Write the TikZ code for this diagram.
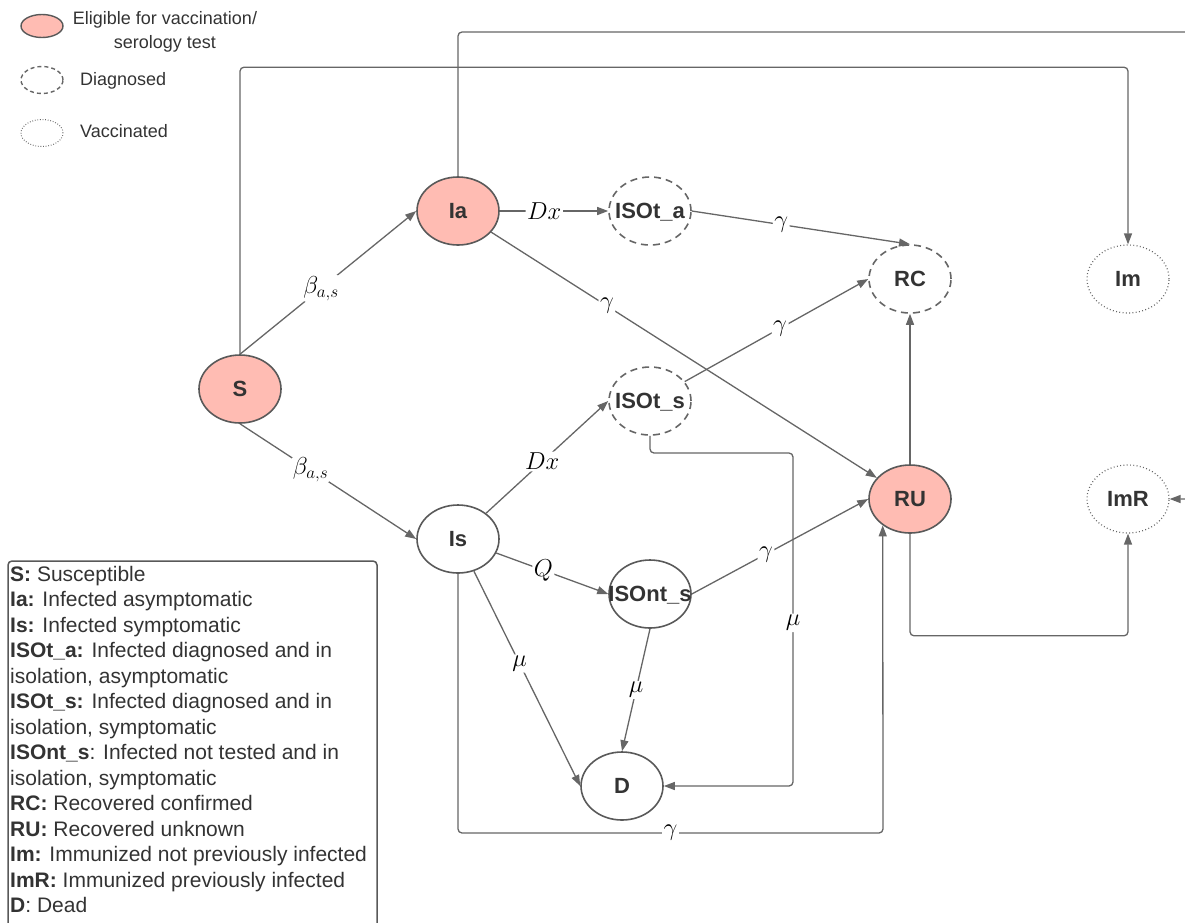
\RequirePackage{fix-cm}
\documentclass[tikz,border=0pt]{standalone}
\usepackage{fontspec}
\setmainfont{Liberation Sans}
\usetikzlibrary{shapes.geometric,arrows.meta}
\definecolor{pinkf}{HTML}{FFBCB3}
\definecolor{edgec}{HTML}{666666}
\definecolor{bordc}{HTML}{595959}
\definecolor{txtc}{HTML}{333333}
\begin{document}
\begin{tikzpicture}[x=1pt,y=-1pt,
  st/.style={ellipse, draw=bordc, line width=1.6pt, minimum width=82pt, minimum height=68pt,
    inner sep=0pt, text=txtc, font=\fontsize{22}{26}\selectfont\bfseries,
    text height=15.8pt, text depth=0pt},
  elig/.style={st, fill=pinkf},
  diag/.style={st, draw=edgec, dash pattern=on 7pt off 5pt},
  vacc/.style={st, draw=edgec, line width=1.2pt, dash pattern=on 0.9pt off 2.4pt},
  key/.style={ellipse, draw=bordc, line width=1.4pt, minimum width=42pt, minimum height=23pt, inner sep=0pt},
  keytext/.style={text=txtc, font=\fontsize{18}{24}\selectfont, inner sep=0pt},
  conn/.style={draw=edgec, line width=1.3pt, -{Triangle[length=11pt,width=8pt]}, rounded corners=4pt},
  lbl/.style={fill=white, inner sep=1.5pt, text=black, font=\fontsize{24.5}{25}\selectfont}]
\useasboundingbox (0,0) rectangle (1185,922);

% key
\node[key, fill=pinkf] (kE) at (42,26) {};
\node[key, draw=edgec, minimum height=27pt, dash pattern=on 4pt off 3pt] (kD) at (42,80) {};
\node[key, draw=edgec, minimum height=27pt, line width=1pt, dash pattern=on 0.8pt off 1.8pt] (kV) at (42,133) {};
\node[keytext, align=center] (tE) at (165,32) {Eligible for vaccination/\\serology test};
\node[keytext, anchor=west] (tD) at (80,81) {Diagnosed};
\node[keytext, anchor=west] (tV) at (80,131) {Vaccinated};

% legend box
\draw[draw=bordc, line width=1.5pt, rounded corners=4pt] (8,561) rectangle (377,960);
\node[anchor=north west, align=left, inner sep=0pt, text=txtc, font=\fontsize{21}{25.5}\selectfont] (legend) at (10,566) {%
\textbf{S:} Susceptible\\
\textbf{Ia:} Infected asymptomatic\\
\textbf{Is:} Infected symptomatic\\
\textbf{ISOt\_a:} Infected diagnosed and in\\
isolation, asymptomatic\\
\textbf{ISOt\_s:} Infected diagnosed and in\\
isolation, symptomatic\\
\textbf{ISOnt\_s}: Infected not tested and in\\
isolation, symptomatic\\
\textbf{RC:} Recovered confirmed\\
\textbf{RU:} Recovered unknown\\
\textbf{Im:} Immunized not previously infected\\
\textbf{ImR:} Immunized previously infected\\
\textbf{D}: Dead};

% states
\node[elig] (S) at (240,389) {\makebox[0pt]{S}};
\node[elig] (Ia) at (458,211) {\makebox[0pt]{Ia}};
\node[diag] (ISOta) at (650,211) {\makebox[0pt]{ISOt\_a}};
\node[diag] (RC) at (910,279) {\makebox[0pt]{RC}};
\node[vacc] (Im) at (1128,279) {\makebox[0pt]{Im}};
\node[diag] (ISOts) at (650,401) {\makebox[0pt]{ISOt\_s}};
\node[st] (Is) at (458,539) {\makebox[0pt]{Is}};
\node[st] (ISOnts) at (650,594) {\makebox[0pt]{ISOnt\_s}};
\node[st] (D) at (622,786) {\makebox[0pt]{D}};
\node[elig] (RU) at (910,499) {\makebox[0pt]{RU}};
\node[vacc] (ImR) at (1128,499) {\makebox[0pt]{ImR}};

% transitions
\draw[conn] (S.north) -- node[lbl,pos=0.46]{$\beta_{a,s}$} (Ia.west);
\draw[conn] (S.south) -- node[lbl,pos=0.4]{$\beta_{a,s}$} (Is.west);
\draw[conn] (Ia.east) -- node[lbl,pos=0.41]{$Dx$} (ISOta.west);
\draw[conn] (ISOta.east) -- node[lbl,pos=0.41]{$\gamma$} (RC.north);
\draw[conn] (Ia) -- node[lbl,pos=0.3]{$\gamma$} (RU);
\draw[conn] (ISOts) -- node[lbl,pos=0.52]{$\gamma$} (RC.west);
\draw[conn] (RU.north) -- (RC.south);
\draw[conn] (Is) -- node[lbl,pos=0.46]{$Dx$} (ISOts.west);
\draw[conn] (Is) -- node[lbl,pos=0.42]{$Q$} (ISOnts.west);
\draw[conn] (ISOnts.east) -- node[lbl,pos=0.42]{$\gamma$} (RU.west);
\draw[conn] (Is) -- node[lbl,pos=0.43]{$\mu$} (D.west);
\draw[conn] (ISOnts.south) -- node[lbl,pos=0.5]{$\mu$} (D.north);
\coordinate (k1) at (793,453);
\draw[conn] (ISOts.south) |- (k1) |- node[lbl,pos=0.255]{$\mu$} (D.east);
\coordinate (k2) at (883,833);
\draw[conn] (Is.south) |- node[lbl,pos=0.75]{$\gamma$} (k2) -- (RU.-136.5);
\draw[conn] (RU.south) -- ++(0,102) -| (ImR.south);
\draw[conn] (S.north) -- ++(0,-287) -| (Im.north);
\coordinate (k3) at (1200,32);
\draw[conn] (Ia.north) |- (k3) |- (ImR.east);
\end{tikzpicture}
\end{document}
